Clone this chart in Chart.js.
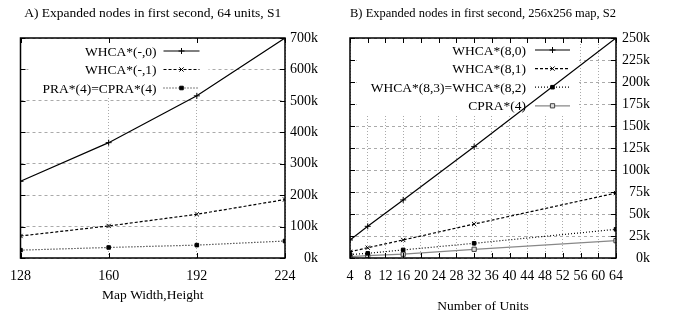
<!DOCTYPE html>
<html><head><meta charset="utf-8">
<script src="https://cdn.jsdelivr.net/npm/chart.js@4"></script>
<style>
html,body{margin:0;padding:0;background:#fff;}
#wrap{position:relative;width:673px;height:318px;overflow:hidden;}
#c1{position:absolute;left:0;top:0;}
#c2{position:absolute;left:336px;top:0;}
</style></head><body>
<div id="wrap"><canvas id="c1" width="336" height="318"></canvas><canvas id="c2" width="337" height="318"></canvas></div>
<script>
const FONT = '"Liberation Serif","Times New Roman",serif';

// ---- Panel A data ----
const titleA = 'A) Expanded nodes in first second, 64 units, S1';
const xTitleA = 'Map Width,Height';
const mapSizes = [128, 160, 192, 224];
const whcaA0 = [244000, 367000, 516000, 700000];
const whcaA1 = [70000, 102000, 139000, 186000];
const praA = [25000, 33500, 41000, 54000];
const labelsA = ['WHCA*(-,0)', 'WHCA*(-,1)', 'PRA*(4)=CPRA*(4)'];
const yTicksA = [0, 100000, 200000, 300000, 400000, 500000, 600000, 700000];
const xTicksA = [128, 160, 192, 224];

// ---- Panel B data ----
const titleB = 'B) Expanded nodes in first second, 256x256 map, S2';
const xTitleB = 'Number of Units';
const unitCounts = [4, 8, 16, 32, 64];
const whcaB80 = [20500, 36000, 66000, 126500, 250000];
const whcaB81 = [7000, 11700, 20500, 38600, 73800];
const whcaB82 = [4000, 5300, 9200, 16700, 32600];
const cpraB = [1600, 2800, 4300, 9900, 19700];
const labelsB = ['WHCA*(8,0)', 'WHCA*(8,1)', 'WHCA*(8,3)=WHCA*(8,2)', 'CPRA*(4)'];
const yTicksB = [0, 25000, 50000, 75000, 100000, 125000, 150000, 175000, 200000, 225000, 250000];
const xTicksB = [4, 8, 12, 16, 20, 24, 28, 32, 36, 40, 44, 48, 52, 56, 60, 64];

const kLabel = v => (v / 1000) + 'k';

const styles = {
  solid:  {color: '#000', dash: [], point: 'cross', radius: 3, fill: '#000'},
  dashed: {color: '#000', dash: [3, 2], point: 'crossRot', radius: 3, fill: '#000'},
  dotted: {color: '#000', dash: [1, 2], point: 'rect', radius: 2.5, fill: '#000'},
  gray:   {color: '#888', dash: [], point: 'rect', radius: 3, fill: '#ddd', pborder: '#444'}
};

function ds(label, xs, ys, st) {
  return {
    label, data: xs.map((x, i) => ({x, y: ys[i]})),
    borderColor: st.color, borderWidth: 1.2, borderDash: st.dash,
    pointStyle: st.point, pointRadius: st.radius,
    pointBackgroundColor: st.fill, pointBorderColor: st.pborder || st.color,
    pointBorderWidth: 1, tension: 0, fill: false, _st: st
  };
}

const framePlugin = {
  id: 'frameTicks',
  beforeDatasetsDraw(chart) {
    const lg = chart.options.plugins.keyBox;
    const {ctx, chartArea: a} = chart;
    ctx.save();
    ctx.font = '13.5px ' + FONT;
    let maxW = 0;
    chart.data.datasets.forEach(d => { maxW = Math.max(maxW, ctx.measureText(d.label).width); });
    const n = chart.data.datasets.length;
    const tr = a.left + lg.textRight;
    const bx0 = tr - maxW - 14, bx1 = a.left + lg.sampleEnd + 9;
    const by0 = a.top + 1.5, by1 = a.top + lg.firstRow + (n - 1) * lg.gap + 10;
    ctx.fillStyle = '#fff';
    ctx.fillRect(bx0, by0, bx1 - bx0, by1 - by0);
    chart.data.datasets.forEach((d, i) => {
      const y = a.top + lg.firstRow + i * lg.gap;
      ctx.fillStyle = '#000';
      ctx.textAlign = 'right';
      ctx.textBaseline = 'middle';
      ctx.fillText(d.label, tr, y + 1);
      const st = d._st;
      ctx.strokeStyle = st.color;
      ctx.lineWidth = 1.2;
      ctx.setLineDash(st.dash);
      ctx.beginPath();
      ctx.moveTo(a.left + lg.sampleStart, y);
      ctx.lineTo(a.left + lg.sampleEnd, y);
      ctx.stroke();
      ctx.setLineDash([]);
      ctx.fillStyle = st.fill;
      ctx.strokeStyle = st.pborder || st.color;
      ctx.lineWidth = 1;
      Chart.helpers.drawPoint(ctx, {pointStyle: st.point, radius: st.radius, rotation: 0, borderWidth: 1},
        a.left + (lg.sampleStart + lg.sampleEnd) / 2, y);
    });
    ctx.restore();
  },
  afterDraw(chart) {
    const {ctx, chartArea: a, scales: {x, y}} = chart;
    ctx.save();
    ctx.strokeStyle = '#000';
    ctx.lineWidth = 1;
    const L = 5;
    ctx.beginPath();
    x.ticks.forEach(t => {
      const px = Math.round(x.getPixelForValue(t.value)) + 0.5;
      ctx.moveTo(px, a.bottom); ctx.lineTo(px, a.bottom - L);
      ctx.moveTo(px, a.top); ctx.lineTo(px, a.top + L);
    });
    y.ticks.forEach(t => {
      const py = Math.round(y.getPixelForValue(t.value)) + 0.5;
      ctx.moveTo(a.left, py); ctx.lineTo(a.left + L, py);
      ctx.moveTo(a.right, py); ctx.lineTo(a.right - L, py);
    });
    ctx.stroke();
    ctx.lineWidth = 1.5;
    ctx.strokeRect(a.left, a.top, a.right - a.left, a.bottom - a.top);
    ctx.restore();
  }
};

function makeChart(el, cfg) {
  return new Chart(el, {
    type: 'line',
    data: {datasets: cfg.datasets},
    plugins: [framePlugin],
    options: {
      responsive: false, animation: false, devicePixelRatio: 1,
      layout: {padding: {left: cfg.padLeft, right: cfg.padRight, top: 0, bottom: 0}},
      plugins: {
        legend: {display: false}, tooltip: {enabled: false},
        title: {display: true, text: cfg.title, fullSize: false, color: '#000',
          font: {family: FONT, size: 13.5, weight: 'normal'}, padding: {top: 5, bottom: 16.8}},
        keyBox: cfg.key
      },
      scales: {
        x: {
          type: 'linear', min: cfg.xTicks[0], max: cfg.xTicks[cfg.xTicks.length - 1],
          afterBuildTicks: s => { s.ticks = cfg.xTicks.map(v => ({value: v})); },
          afterFit: s => { s.height = 60; },
          ticks: {color: '#000', font: {family: FONT, size: 14}, padding: 10, maxRotation: 0, autoSkip: false},
          grid: {color: '#aaa', lineWidth: 1, drawTicks: false},
          border: {display: false, dash: [1, 2]},
          title: {display: true, text: cfg.xTitle, color: '#000', font: {family: FONT, size: 13.5},
            padding: {top: 0, bottom: cfg.xTitlePad}}
        },
        y: {
          type: 'linear', position: 'right', min: 0, max: cfg.yTicks[cfg.yTicks.length - 1],
          afterBuildTicks: s => { s.ticks = cfg.yTicks.map(v => ({value: v})); },
          afterFit: s => { s.width = cfg.yWidth; },
          ticks: {color: '#000', font: {family: FONT, size: 14}, padding: 5, crossAlign: 'far',
            callback: v => kLabel(v)},
          grid: {color: '#aaa', lineWidth: 1, drawTicks: false, tickLength: 0},
          border: {display: false, dash: [3, 3]}
        }
      }
    }
  });
}

makeChart(document.getElementById('c1'), {
  title: titleA, xTitle: xTitleA, xTitlePad: 14, xTicks: xTicksA, yTicks: yTicksA,
  padLeft: 19, padRight: 18, yWidth: 33,
  key: {textRight: 136, sampleStart: 143, sampleEnd: 179, firstRow: 13, gap: 18.5},
  datasets: [
    ds(labelsA[0], mapSizes, whcaA0, styles.solid),
    ds(labelsA[1], mapSizes, whcaA1, styles.dashed),
    ds(labelsA[2], mapSizes, praA, styles.dotted)
  ]
});

makeChart(document.getElementById('c2'), {
  title: titleB, xTitle: xTitleB, xTitlePad: 3, xTicks: xTicksB, yTicks: yTicksB,
  padLeft: 14, padRight: 23, yWidth: 34,
  key: {textRight: 176, sampleStart: 185, sampleEnd: 220, firstRow: 12, gap: 18.6},
  datasets: [
    ds(labelsB[0], unitCounts, whcaB80, styles.solid),
    ds(labelsB[1], unitCounts, whcaB81, styles.dashed),
    ds(labelsB[2], unitCounts, whcaB82, styles.dotted),
    ds(labelsB[3], unitCounts, cpraB, styles.gray)
  ]
});
</script>
</body></html>
